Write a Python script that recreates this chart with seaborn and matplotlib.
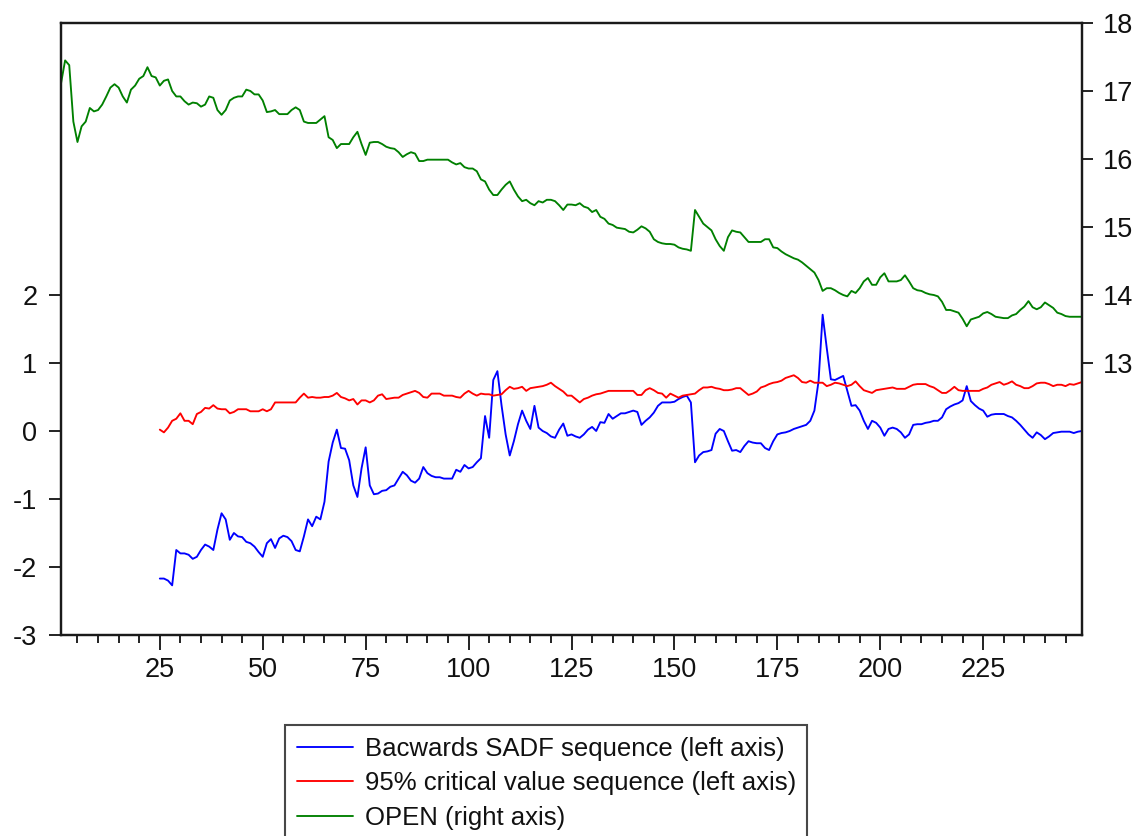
import matplotlib
matplotlib.use("Agg")
import matplotlib.pyplot as plt
import seaborn as sns
import pandas as pd
from matplotlib.ticker import FixedLocator

# ---------------- data ----------------
open_obs = list(range(1, 250))
open_vals = [
    17.11, 17.45, 17.38, 16.55, 16.25, 16.48, 16.55, 16.75, 16.70, 16.72,
    16.80, 16.92, 17.05, 17.10, 17.05, 16.92, 16.83, 17.02, 17.08, 17.18,
    17.22, 17.35, 17.22, 17.20, 17.08, 17.15, 17.17, 17.00, 16.92, 16.92,
    16.85, 16.80, 16.83, 16.82, 16.77, 16.80, 16.92, 16.90, 16.72, 16.65,
    16.72, 16.86, 16.90, 16.92, 16.92, 17.02, 17.00, 16.95, 16.95, 16.86,
    16.69, 16.70, 16.72, 16.66, 16.66, 16.66, 16.72, 16.76, 16.72, 16.55,
    16.53, 16.53, 16.53, 16.58, 16.63, 16.32, 16.28, 16.16, 16.22, 16.22,
    16.22, 16.32, 16.40, 16.22, 16.06, 16.24, 16.25, 16.25, 16.22, 16.18,
    16.16, 16.15, 16.10, 16.03, 16.07, 16.10, 16.08, 15.97, 15.97, 15.99,
    15.99, 15.99, 15.99, 15.99, 15.99, 15.95, 15.92, 15.94, 15.88, 15.86,
    15.86, 15.82, 15.70, 15.67, 15.55, 15.47, 15.47, 15.55, 15.62, 15.67,
    15.55, 15.45, 15.38, 15.40, 15.35, 15.32, 15.38, 15.36, 15.40, 15.40,
    15.38, 15.32, 15.25, 15.33, 15.33, 15.32, 15.35, 15.30, 15.28, 15.22,
    15.25, 15.15, 15.12, 15.05, 15.03, 14.99, 14.98, 14.97, 14.93, 14.92,
    14.96, 15.01, 14.98, 14.93, 14.82, 14.78, 14.76, 14.75, 14.75, 14.74,
    14.70, 14.68, 14.67, 14.65, 15.25, 15.15, 15.05, 15.00, 14.95, 14.82,
    14.72, 14.65, 14.85, 14.95, 14.93, 14.92, 14.85, 14.78, 14.78, 14.78,
    14.78, 14.82, 14.82, 14.70, 14.69, 14.64, 14.60, 14.57, 14.54, 14.52,
    14.48, 14.43, 14.38, 14.33, 14.22, 14.06, 14.10, 14.10, 14.07, 14.03,
    14.00, 13.98, 14.06, 14.03, 14.10, 14.20, 14.25, 14.15, 14.15, 14.26,
    14.32, 14.20, 14.20, 14.20, 14.22, 14.29, 14.20, 14.10, 14.07, 14.06,
    14.03, 14.01, 14.00, 13.98, 13.90, 13.78, 13.78, 13.76, 13.74, 13.65,
    13.54, 13.64, 13.66, 13.68, 13.73, 13.75, 13.72, 13.68, 13.67, 13.66,
    13.66, 13.70, 13.72, 13.78, 13.83, 13.91, 13.82, 13.79, 13.82, 13.89,
    13.85, 13.81, 13.74, 13.72, 13.69, 13.68, 13.68, 13.68, 13.68,
]

seq_obs = list(range(25, 250))
crit_vals = [
    0.02, -0.02, 0.05, 0.15, 0.18, 0.26, 0.15, 0.15, 0.10, 0.25,
    0.28, 0.34, 0.33, 0.38, 0.33, 0.32, 0.32, 0.26, 0.28, 0.32,
    0.32, 0.32, 0.29, 0.29, 0.29, 0.32, 0.29, 0.32, 0.42, 0.42,
    0.42, 0.42, 0.42, 0.42, 0.49, 0.55, 0.49, 0.50, 0.49, 0.49,
    0.50, 0.50, 0.52, 0.56, 0.50, 0.48, 0.45, 0.47, 0.39, 0.45,
    0.45, 0.42, 0.45, 0.52, 0.54, 0.47, 0.48, 0.49, 0.49, 0.53,
    0.55, 0.57, 0.59, 0.56, 0.50, 0.49, 0.55, 0.55, 0.55, 0.52,
    0.52, 0.52, 0.50, 0.49, 0.55, 0.59, 0.55, 0.52, 0.55, 0.54,
    0.54, 0.52, 0.53, 0.54, 0.60, 0.65, 0.62, 0.63, 0.65, 0.59,
    0.63, 0.64, 0.65, 0.66, 0.68, 0.71, 0.66, 0.62, 0.58, 0.52,
    0.52, 0.47, 0.42, 0.47, 0.49, 0.52, 0.54, 0.55, 0.57, 0.59,
    0.59, 0.59, 0.59, 0.59, 0.59, 0.59, 0.53, 0.53, 0.60, 0.63,
    0.60, 0.56, 0.55, 0.49, 0.55, 0.52, 0.49, 0.52, 0.53, 0.54,
    0.55, 0.60, 0.64, 0.64, 0.65, 0.63, 0.62, 0.60, 0.60, 0.61,
    0.63, 0.63, 0.58, 0.53, 0.55, 0.58, 0.64, 0.66, 0.69, 0.71,
    0.72, 0.74, 0.78, 0.80, 0.82, 0.78, 0.72, 0.71, 0.74, 0.71,
    0.71, 0.71, 0.66, 0.68, 0.71, 0.70, 0.68, 0.66, 0.68, 0.73,
    0.66, 0.60, 0.58, 0.56, 0.60, 0.61, 0.62, 0.63, 0.64, 0.62,
    0.62, 0.62, 0.65, 0.68, 0.69, 0.69, 0.69, 0.66, 0.64, 0.60,
    0.56, 0.56, 0.60, 0.65, 0.60, 0.59, 0.59, 0.59, 0.59, 0.59,
    0.62, 0.64, 0.68, 0.70, 0.72, 0.68, 0.70, 0.73, 0.68, 0.66,
    0.63, 0.63, 0.66, 0.70, 0.71, 0.71, 0.69, 0.66, 0.68, 0.68,
    0.66, 0.69, 0.68, 0.70, 0.72,
]

sadf_vals = [
    -2.17, -2.17, -2.20, -2.27, -1.75, -1.80, -1.80, -1.82, -1.88, -1.85,
    -1.75, -1.67, -1.70, -1.75, -1.45, -1.21, -1.30, -1.60, -1.50, -1.55,
    -1.56, -1.63, -1.65, -1.70, -1.78, -1.85, -1.65, -1.59, -1.72, -1.58,
    -1.54, -1.56, -1.62, -1.75, -1.77, -1.55, -1.30, -1.40, -1.26, -1.30,
    -1.04, -0.45, -0.17, 0.02, -0.25, -0.26, -0.43, -0.80, -0.97, -0.55,
    -0.24, -0.80, -0.93, -0.92, -0.88, -0.87, -0.82, -0.80, -0.70, -0.60,
    -0.65, -0.73, -0.76, -0.70, -0.53, -0.62, -0.66, -0.68, -0.68, -0.70,
    -0.70, -0.70, -0.57, -0.60, -0.50, -0.55, -0.53, -0.46, -0.40, 0.22,
    -0.10, 0.75, 0.88, 0.38, -0.05, -0.36, -0.15, 0.10, 0.30, 0.15,
    0.03, 0.37, 0.05, 0.00, -0.03, -0.08, -0.10, 0.02, 0.11, -0.07,
    -0.05, -0.08, -0.10, -0.05, 0.02, 0.06, 0.00, 0.13, 0.12, 0.25,
    0.18, 0.22, 0.26, 0.26, 0.28, 0.30, 0.28, 0.09, 0.15, 0.20,
    0.27, 0.37, 0.42, 0.42, 0.42, 0.43, 0.47, 0.50, 0.52, 0.42,
    -0.46, -0.36, -0.31, -0.30, -0.28, -0.04, 0.03, 0.00, -0.15, -0.29,
    -0.28, -0.31, -0.22, -0.15, -0.17, -0.18, -0.18, -0.25, -0.28, -0.15,
    -0.05, -0.03, -0.02, 0.00, 0.03, 0.05, 0.07, 0.09, 0.15, 0.30,
    0.73, 1.71, 1.22, 0.76, 0.75, 0.78, 0.81, 0.59, 0.37, 0.38,
    0.30, 0.15, 0.03, 0.15, 0.12, 0.05, -0.07, 0.03, 0.05, 0.03,
    -0.02, -0.10, -0.05, 0.09, 0.10, 0.10, 0.12, 0.13, 0.15, 0.15,
    0.20, 0.32, 0.36, 0.39, 0.41, 0.45, 0.66, 0.44, 0.38, 0.33,
    0.30, 0.21, 0.24, 0.25, 0.25, 0.25, 0.22, 0.20, 0.15, 0.09,
    0.02, -0.05, -0.10, -0.02, -0.06, -0.12, -0.08, -0.03, -0.02, -0.01,
    -0.01, -0.01, -0.03, -0.01, 0.00,
]

labels = ["Bacwards SADF sequence (left axis)",
          "95% critical value sequence (left axis)",
          "OPEN (right axis)"]
x_major = [25, 50, 75, 100, 125, 150, 175, 200, 225]
left_ticks = [-3, -2, -1, 0, 1, 2]
right_ticks = [13, 14, 15, 16, 17, 18]

# ---------------- style ----------------
sns.set_style("white")
plt.rcParams["font.family"] = ["Liberation Sans", "DejaVu Sans"]
plt.rcParams["axes.unicode_minus"] = False

fig = plt.figure(figsize=(11.46, 8.36), dpi=100)
ax = fig.add_axes([61 / 1146, 1 - 635 / 836, (1082 - 61) / 1146, (635 - 23) / 836])
ax2 = ax.twinx()

df_seq = pd.DataFrame({"obs": seq_obs, "sadf": sadf_vals, "crit": crit_vals})
df_open = pd.DataFrame({"obs": open_obs, "open": open_vals})

lw = 1.35
sns.lineplot(data=df_seq, x="obs", y="sadf", ax=ax, color="#0000ff", linewidth=lw, label=labels[0])
sns.lineplot(data=df_seq, x="obs", y="crit", ax=ax, color="#ff0000", linewidth=lw, label=labels[1])
sns.lineplot(data=df_open, x="obs", y="open", ax=ax2, color="#008000", linewidth=lw, label=labels[2])

h1, l1 = ax.get_legend_handles_labels()
h2, l2 = ax2.get_legend_handles_labels()
for a in (ax, ax2):
    if a.get_legend() is not None:
        a.get_legend().remove()

ax.set_xlim(1, 249)
ax.set_ylim(-3, 6)
ax2.set_ylim(9, 18)

ax.set_xlabel("")
ax.set_ylabel("")
ax2.set_ylabel("")

ax.xaxis.set_major_locator(FixedLocator(x_major))
ax.xaxis.set_minor_locator(FixedLocator([v for v in range(5, 249, 5) if v % 25 != 0]))
ax.yaxis.set_major_locator(FixedLocator(left_ticks))
ax2.yaxis.set_major_locator(FixedLocator(right_ticks))

tcol = "#111111"
ax.tick_params(axis="x", which="major", direction="out", length=10.5, width=1.3,
               pad=5, labelsize=19.5, colors=tcol, bottom=True, top=False)
ax.tick_params(axis="x", which="minor", direction="out", length=5.8, width=1.3,
               bottom=True, top=False, colors=tcol)
ax.tick_params(axis="y", which="major", direction="out", length=8.6, width=1.3,
               pad=8.5, labelsize=19.5, colors=tcol, left=True, right=False)
ax2.tick_params(axis="y", which="major", direction="out", length=8, width=1.3,
                pad=7.3, labelsize=19.5, colors=tcol, right=True, left=False)

for a in (ax, ax2):
    for s in a.spines.values():
        s.set_visible(True)
        s.set_color("#1a1a1a")
        s.set_linewidth(1.6)
ax.grid(False)
ax2.grid(False)

leg = fig.legend(h1 + h2, l1 + l2, loc="upper left",
                 bbox_to_anchor=(285 / 1146, 1 - 725 / 836),
                 frameon=True, fancybox=False, edgecolor="#1a1a1a",
                 fontsize=18.5, handlelength=2.2, handletextpad=0.45,
                 borderpad=0.45, labelspacing=0.41, borderaxespad=0)
leg.get_frame().set_linewidth(1.5)
for t in leg.get_texts():
    t.set_color(tcol)

fig.savefig("out.png", dpi=100)
